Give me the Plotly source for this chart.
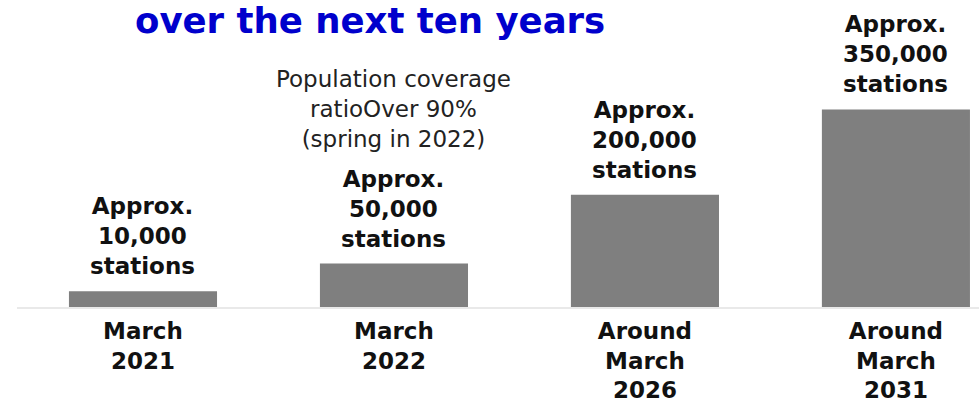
import plotly.graph_objects as go

# ---- data ----
categories = ["March<br>2021", "March<br>2022", "Around<br>March<br>2026", "Around<br>March<br>2031"]
# drawn bar heights (thousand stations, as scaled in the picture)
bar_heights = [28, 77, 199, 350]
bar_labels = [
    "Approx.<br>10,000<br>stations",
    "Approx.<br>50,000<br>stations",
    "Approx.<br>200,000<br>stations",
    "Approx.<br>350,000<br>stations",
]
title_text = "over the next ten years"
note_text = "Population coverage<br>ratioOver 90%<br>(spring in 2022)"
note_category = categories[1]

W, H = 979, 404
ML, MB = 17, 97
plot_h = H - MB

bold = dict(family="DejaVu Sans", size=23, color="#111111", weight="bold")

fig = go.Figure(
    go.Bar(
        x=categories,
        y=bar_heights,
        width=0.59,
        marker=dict(color="#7f7f7f", line=dict(width=0)),
        hoverinfo="skip",
    )
)

annotations = []
for c, h, lab in zip(categories, bar_heights, bar_labels):
    annotations.append(dict(
        x=c, y=h, xref="x", yref="y", text=lab, showarrow=False,
        yanchor="bottom", xanchor="center", yshift=10, font=bold,
    ))

annotations.append(dict(
    x=(133 - ML) / (W - ML), y=(plot_h - 20.5) / plot_h, xref="paper", yref="paper",
    text=title_text, showarrow=False, xanchor="left", yanchor="middle",
    font=dict(family="DejaVu Sans", size=35.5, color="#0000cc", weight="bold"),
))
annotations.append(dict(
    x=note_category, y=(plot_h - 109) / plot_h, xref="x", yref="paper",
    text=note_text, showarrow=False, xanchor="center", yanchor="middle",
    font=dict(family="DejaVu Sans", size=23, color="#222222"),
))

fig.update_layout(
    width=W, height=H,
    margin=dict(l=ML, r=0, t=0, b=MB, pad=0, autoexpand=False),
    plot_bgcolor="white", paper_bgcolor="white",
    showlegend=False,
    annotations=annotations,
    xaxis=dict(
        type="category", range=[-0.502, 3.331],
        showline=True, linecolor="#e9e9e9", linewidth=2,
        showgrid=False, zeroline=False, ticks="",
        tickfont=bold, ticklabelstandoff=2, automargin=False,
    ),
    yaxis=dict(visible=False, range=[0, 544], showgrid=False, zeroline=False, automargin=False),
)

fig.write_html("out.html", config={"displayModeBar": False})
